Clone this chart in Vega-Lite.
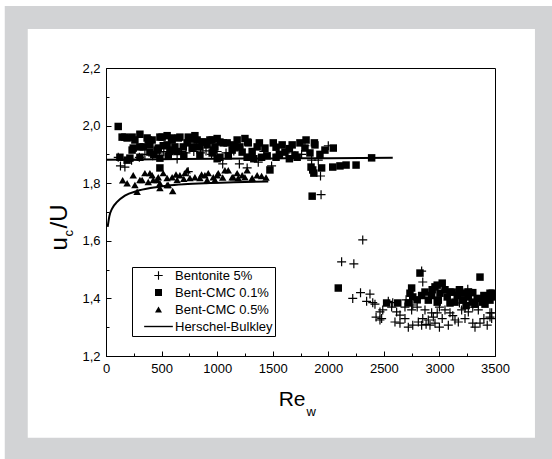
{
  "$schema": "https://vega.github.io/schema/vega-lite/v6.json",
  "width": 389,
  "height": 288,
  "autosize": {"type": "none"},
  "padding": {"left": 106, "top": 68, "right": 57, "bottom": 103},
  "background": "white",
  "config": {"view": {"stroke": "black", "strokeWidth": 1}, "font": "Liberation Sans"},
  "resolve": {"axis": {"x": "independent", "y": "independent"}},
  "layer": [
    {
      "data": {"values": [{"k": "frame"}]},
      "mark": {"type": "rect", "filled": false, "color": "#d2d3d5", "strokeWidth": 23, "clip": false},
      "encoding": {
        "x": {"datum": -807.5, "type": "quantitative", "scale": {"domain": [0, 3500], "nice": false, "zero": false},
          "axis": {"orient": "bottom", "title": "w", "titleFontSize": 13, "titleFontWeight": "normal", "titleColor": "black", "titleX": 200, "titleY": 59, "titleAlign": "left", "titleBaseline": "alphabetic", "titleAngle": 0, "labels": false, "ticks": false, "domain": false, "grid": false, "zindex": 1}},
        "x2": {"datum": 3963},
        "y": {"datum": 2.3753, "type": "quantitative", "scale": {"domain": [1.2, 2.2], "nice": false, "zero": false},
          "axis": {"orient": "left", "title": "c", "titleFontSize": 13, "titleFontWeight": "normal", "titleColor": "black", "titleX": -34, "titleY": 168, "titleAlign": "left", "titleBaseline": "alphabetic", "titleAngle": -90, "labels": false, "ticks": false, "domain": false, "grid": false, "zindex": 1}},
        "y2": {"datum": 0.8764}
      }
    },
    {
      "data": {"values": [
        {"branch": "a", "x": 0, "y": 1.881}, {"branch": "a", "x": 500, "y": 1.883}, {"branch": "a", "x": 1000, "y": 1.885},
        {"branch": "a", "x": 1500, "y": 1.886}, {"branch": "a", "x": 2000, "y": 1.887}, {"branch": "a", "x": 2580, "y": 1.888},
        {"branch": "b", "x": 15, "y": 1.648}, {"branch": "b", "x": 30, "y": 1.685}, {"branch": "b", "x": 55, "y": 1.712},
        {"branch": "b", "x": 100, "y": 1.735}, {"branch": "b", "x": 170, "y": 1.757}, {"branch": "b", "x": 280, "y": 1.773},
        {"branch": "b", "x": 400, "y": 1.783}, {"branch": "b", "x": 550, "y": 1.791}, {"branch": "b", "x": 700, "y": 1.796},
        {"branch": "b", "x": 900, "y": 1.8}, {"branch": "b", "x": 1150, "y": 1.803}, {"branch": "b", "x": 1460, "y": 1.806}
      ]},
      "mark": {"type": "line", "color": "black", "strokeWidth": 2, "interpolate": "monotone", "clip": true},
      "encoding": {
        "x": {"field": "x", "type": "quantitative", "scale": {"domain": [0, 3500], "nice": false, "zero": false}, "axis": null},
        "y": {"field": "y", "type": "quantitative", "scale": {"domain": [1.2, 2.2], "nice": false, "zero": false},
          "axis": {"orient": "left", "title": "/U", "titleFontSize": 24, "titleFontWeight": "normal", "titleColor": "black", "titleX": -40, "titleY": 160, "titleAlign": "left", "titleBaseline": "alphabetic", "titleAngle": -90, "labels": false, "ticks": false, "domain": false, "grid": false, "zindex": 1}},
        "detail": {"field": "branch", "type": "nominal"}
      }
    },
    {
      "data": {"values": [
        {"s": "Bentonite 5%", "x": 110, "y": 1.89}, {"s": "Bentonite 5%", "x": 130, "y": 1.86}, {"s": "Bentonite 5%", "x": 170, "y": 1.856},
        {"s": "Bentonite 5%", "x": 230, "y": 1.88}, {"s": "Bentonite 5%", "x": 300, "y": 1.89}, {"s": "Bentonite 5%", "x": 350, "y": 1.9},
        {"s": "Bentonite 5%", "x": 420, "y": 1.895}, {"s": "Bentonite 5%", "x": 480, "y": 1.905}, {"s": "Bentonite 5%", "x": 520, "y": 1.91},
        {"s": "Bentonite 5%", "x": 580, "y": 1.905}, {"s": "Bentonite 5%", "x": 640, "y": 1.884}, {"s": "Bentonite 5%", "x": 680, "y": 1.91},
        {"s": "Bentonite 5%", "x": 720, "y": 1.905}, {"s": "Bentonite 5%", "x": 740, "y": 1.84}, {"s": "Bentonite 5%", "x": 790, "y": 1.91},
        {"s": "Bentonite 5%", "x": 850, "y": 1.905}, {"s": "Bentonite 5%", "x": 900, "y": 1.912}, {"s": "Bentonite 5%", "x": 950, "y": 1.9},
        {"s": "Bentonite 5%", "x": 1000, "y": 1.91}, {"s": "Bentonite 5%", "x": 1050, "y": 1.867}, {"s": "Bentonite 5%", "x": 1080, "y": 1.905},
        {"s": "Bentonite 5%", "x": 1150, "y": 1.912}, {"s": "Bentonite 5%", "x": 1200, "y": 1.867}, {"s": "Bentonite 5%", "x": 1270, "y": 1.853},
        {"s": "Bentonite 5%", "x": 1300, "y": 1.9}, {"s": "Bentonite 5%", "x": 1370, "y": 1.873}, {"s": "Bentonite 5%", "x": 1420, "y": 1.91},
        {"s": "Bentonite 5%", "x": 1490, "y": 1.86}, {"s": "Bentonite 5%", "x": 1550, "y": 1.9}, {"s": "Bentonite 5%", "x": 1620, "y": 1.905},
        {"s": "Bentonite 5%", "x": 1700, "y": 1.895}, {"s": "Bentonite 5%", "x": 1760, "y": 1.9}, {"s": "Bentonite 5%", "x": 1790, "y": 1.93},
        {"s": "Bentonite 5%", "x": 1850, "y": 1.88}, {"s": "Bentonite 5%", "x": 1910, "y": 1.88}, {"s": "Bentonite 5%", "x": 1930, "y": 1.825},
        {"s": "Bentonite 5%", "x": 1935, "y": 1.76}, {"s": "Bentonite 5%", "x": 2000, "y": 1.93},
        {"s": "Bentonite 5%", "x": 2120, "y": 1.527}, {"s": "Bentonite 5%", "x": 2230, "y": 1.52}, {"s": "Bentonite 5%", "x": 2310, "y": 1.603},
        {"s": "Bentonite 5%", "x": 2290, "y": 1.42}, {"s": "Bentonite 5%", "x": 2375, "y": 1.415}, {"s": "Bentonite 5%", "x": 2220, "y": 1.4},
        {"s": "Bentonite 5%", "x": 2345, "y": 1.39}, {"s": "Bentonite 5%", "x": 2400, "y": 1.385}, {"s": "Bentonite 5%", "x": 2420, "y": 1.38},
        {"s": "Bentonite 5%", "x": 2490, "y": 1.36}, {"s": "Bentonite 5%", "x": 2430, "y": 1.335}, {"s": "Bentonite 5%", "x": 2480, "y": 1.33},
        {"s": "Bentonite 5%", "x": 2465, "y": 1.353}, {"s": "Bentonite 5%", "x": 2465, "y": 1.325},
        {"s": "Bentonite 5%", "x": 2570, "y": 1.37}, {"s": "Bentonite 5%", "x": 2615, "y": 1.353}, {"s": "Bentonite 5%", "x": 2645, "y": 1.342},
        {"s": "Bentonite 5%", "x": 2690, "y": 1.37}, {"s": "Bentonite 5%", "x": 2750, "y": 1.36}, {"s": "Bentonite 5%", "x": 2760, "y": 1.377},
        {"s": "Bentonite 5%", "x": 2600, "y": 1.318}, {"s": "Bentonite 5%", "x": 2645, "y": 1.314}, {"s": "Bentonite 5%", "x": 2690, "y": 1.33},
        {"s": "Bentonite 5%", "x": 2720, "y": 1.3}, {"s": "Bentonite 5%", "x": 2760, "y": 1.307}, {"s": "Bentonite 5%", "x": 2810, "y": 1.318},
        {"s": "Bentonite 5%", "x": 2840, "y": 1.307}, {"s": "Bentonite 5%", "x": 2850, "y": 1.33}, {"s": "Bentonite 5%", "x": 2900, "y": 1.325},
        {"s": "Bentonite 5%", "x": 2915, "y": 1.307}, {"s": "Bentonite 5%", "x": 2945, "y": 1.335}, {"s": "Bentonite 5%", "x": 2960, "y": 1.314},
        {"s": "Bentonite 5%", "x": 2980, "y": 1.35}, {"s": "Bentonite 5%", "x": 3025, "y": 1.33}, {"s": "Bentonite 5%", "x": 3080, "y": 1.307},
        {"s": "Bentonite 5%", "x": 3095, "y": 1.35}, {"s": "Bentonite 5%", "x": 3140, "y": 1.325}, {"s": "Bentonite 5%", "x": 3170, "y": 1.318},
        {"s": "Bentonite 5%", "x": 3230, "y": 1.33}, {"s": "Bentonite 5%", "x": 3260, "y": 1.353}, {"s": "Bentonite 5%", "x": 3300, "y": 1.314},
        {"s": "Bentonite 5%", "x": 3365, "y": 1.314}, {"s": "Bentonite 5%", "x": 3430, "y": 1.307}, {"s": "Bentonite 5%", "x": 3455, "y": 1.35},
        {"s": "Bentonite 5%", "x": 3455, "y": 1.335}, {"s": "Bentonite 5%", "x": 2840, "y": 1.495}, {"s": "Bentonite 5%", "x": 2850, "y": 1.457},
        {"s": "Bentonite 5%", "x": 3230, "y": 1.366}, {"s": "Bentonite 5%", "x": 3255, "y": 1.432}, {"s": "Bentonite 5%", "x": 3180, "y": 1.384},
        {"s": "Bentonite 5%", "x": 3300, "y": 1.37}, {"s": "Bentonite 5%", "x": 3470, "y": 1.35}, {"s": "Bentonite 5%", "x": 3470, "y": 1.33},
        {"s": "Bentonite 5%", "x": 2540, "y": 1.39}, {"s": "Bentonite 5%", "x": 2580, "y": 1.385}, {"s": "Bentonite 5%", "x": 2700, "y": 1.395},
        {"s": "Bentonite 5%", "x": 2800, "y": 1.37}, {"s": "Bentonite 5%", "x": 2870, "y": 1.36}, {"s": "Bentonite 5%", "x": 2930, "y": 1.35},
        {"s": "Bentonite 5%", "x": 3000, "y": 1.37}, {"s": "Bentonite 5%", "x": 3050, "y": 1.36}, {"s": "Bentonite 5%", "x": 3120, "y": 1.34},
        {"s": "Bentonite 5%", "x": 3200, "y": 1.36}, {"s": "Bentonite 5%", "x": 3350, "y": 1.36}, {"s": "Bentonite 5%", "x": 3400, "y": 1.33},
        {"s": "Bentonite 5%", "x": 2880, "y": 1.31}, {"s": "Bentonite 5%", "x": 3000, "y": 1.3}, {"s": "Bentonite 5%", "x": 3320, "y": 1.3},

        {"s": "Bent-CMC 0.1%", "x": 110, "y": 1.997}, {"s": "Bent-CMC 0.1%", "x": 145, "y": 1.96}, {"s": "Bent-CMC 0.1%", "x": 170, "y": 1.96},
        {"s": "Bent-CMC 0.1%", "x": 190, "y": 1.957}, {"s": "Bent-CMC 0.1%", "x": 235, "y": 1.96}, {"s": "Bent-CMC 0.1%", "x": 305, "y": 1.97},
        {"s": "Bent-CMC 0.1%", "x": 370, "y": 1.957}, {"s": "Bent-CMC 0.1%", "x": 380, "y": 1.95}, {"s": "Bent-CMC 0.1%", "x": 415, "y": 1.95},
        {"s": "Bent-CMC 0.1%", "x": 485, "y": 1.96}, {"s": "Bent-CMC 0.1%", "x": 505, "y": 1.96}, {"s": "Bent-CMC 0.1%", "x": 590, "y": 1.957},
        {"s": "Bent-CMC 0.1%", "x": 595, "y": 1.95}, {"s": "Bent-CMC 0.1%", "x": 650, "y": 1.957}, {"s": "Bent-CMC 0.1%", "x": 665, "y": 1.96},
        {"s": "Bent-CMC 0.1%", "x": 740, "y": 1.96}, {"s": "Bent-CMC 0.1%", "x": 775, "y": 1.953}, {"s": "Bent-CMC 0.1%", "x": 820, "y": 1.95},
        {"s": "Bent-CMC 0.1%", "x": 865, "y": 1.943}, {"s": "Bent-CMC 0.1%", "x": 875, "y": 1.943}, {"s": "Bent-CMC 0.1%", "x": 935, "y": 1.95},
        {"s": "Bent-CMC 0.1%", "x": 955, "y": 1.95}, {"s": "Bent-CMC 0.1%", "x": 1055, "y": 1.94}, {"s": "Bent-CMC 0.1%", "x": 1090, "y": 1.94},
        {"s": "Bent-CMC 0.1%", "x": 1145, "y": 1.933}, {"s": "Bent-CMC 0.1%", "x": 1275, "y": 1.943}, {"s": "Bent-CMC 0.1%", "x": 1280, "y": 1.94},
        {"s": "Bent-CMC 0.1%", "x": 1360, "y": 1.926}, {"s": "Bent-CMC 0.1%", "x": 1430, "y": 1.922}, {"s": "Bent-CMC 0.1%", "x": 1505, "y": 1.94},
        {"s": "Bent-CMC 0.1%", "x": 1585, "y": 1.933}, {"s": "Bent-CMC 0.1%", "x": 1675, "y": 1.933}, {"s": "Bent-CMC 0.1%", "x": 1745, "y": 1.94},
        {"s": "Bent-CMC 0.1%", "x": 1790, "y": 1.922}, {"s": "Bent-CMC 0.1%", "x": 1875, "y": 1.94}, {"s": "Bent-CMC 0.1%", "x": 1880, "y": 1.933},
        {"s": "Bent-CMC 0.1%", "x": 2045, "y": 1.922}, {"s": "Bent-CMC 0.1%", "x": 125, "y": 1.89}, {"s": "Bent-CMC 0.1%", "x": 190, "y": 1.88},
        {"s": "Bent-CMC 0.1%", "x": 215, "y": 1.887}, {"s": "Bent-CMC 0.1%", "x": 235, "y": 1.915}, {"s": "Bent-CMC 0.1%", "x": 245, "y": 1.922},
        {"s": "Bent-CMC 0.1%", "x": 305, "y": 1.926}, {"s": "Bent-CMC 0.1%", "x": 305, "y": 1.89}, {"s": "Bent-CMC 0.1%", "x": 335, "y": 1.926},
        {"s": "Bent-CMC 0.1%", "x": 395, "y": 1.933}, {"s": "Bent-CMC 0.1%", "x": 395, "y": 1.908}, {"s": "Bent-CMC 0.1%", "x": 460, "y": 1.915},
        {"s": "Bent-CMC 0.1%", "x": 470, "y": 1.922}, {"s": "Bent-CMC 0.1%", "x": 485, "y": 1.887}, {"s": "Bent-CMC 0.1%", "x": 515, "y": 1.93},
        {"s": "Bent-CMC 0.1%", "x": 550, "y": 1.933}, {"s": "Bent-CMC 0.1%", "x": 575, "y": 1.91}, {"s": "Bent-CMC 0.1%", "x": 605, "y": 1.915},
        {"s": "Bent-CMC 0.1%", "x": 620, "y": 1.926}, {"s": "Bent-CMC 0.1%", "x": 695, "y": 1.926}, {"s": "Bent-CMC 0.1%", "x": 730, "y": 1.94},
        {"s": "Bent-CMC 0.1%", "x": 775, "y": 1.922}, {"s": "Bent-CMC 0.1%", "x": 785, "y": 1.926}, {"s": "Bent-CMC 0.1%", "x": 845, "y": 1.898},
        {"s": "Bent-CMC 0.1%", "x": 845, "y": 1.926}, {"s": "Bent-CMC 0.1%", "x": 910, "y": 1.933}, {"s": "Bent-CMC 0.1%", "x": 955, "y": 1.905},
        {"s": "Bent-CMC 0.1%", "x": 965, "y": 1.915}, {"s": "Bent-CMC 0.1%", "x": 980, "y": 1.926}, {"s": "Bent-CMC 0.1%", "x": 1025, "y": 1.943},
        {"s": "Bent-CMC 0.1%", "x": 1025, "y": 1.89}, {"s": "Bent-CMC 0.1%", "x": 1135, "y": 1.915}, {"s": "Bent-CMC 0.1%", "x": 1160, "y": 1.926},
        {"s": "Bent-CMC 0.1%", "x": 1205, "y": 1.926}, {"s": "Bent-CMC 0.1%", "x": 1225, "y": 1.908}, {"s": "Bent-CMC 0.1%", "x": 1270, "y": 1.89},
        {"s": "Bent-CMC 0.1%", "x": 1315, "y": 1.91}, {"s": "Bent-CMC 0.1%", "x": 1610, "y": 1.908}, {"s": "Bent-CMC 0.1%", "x": 1700, "y": 1.898},
        {"s": "Bent-CMC 0.1%", "x": 1835, "y": 1.905}, {"s": "Bent-CMC 0.1%", "x": 1925, "y": 1.9}, {"s": "Bent-CMC 0.1%", "x": 1970, "y": 1.915},
        {"s": "Bent-CMC 0.1%", "x": 485, "y": 1.853}, {"s": "Bent-CMC 0.1%", "x": 1475, "y": 1.846}, {"s": "Bent-CMC 0.1%", "x": 1845, "y": 1.856},
        {"s": "Bent-CMC 0.1%", "x": 1860, "y": 1.846}, {"s": "Bent-CMC 0.1%", "x": 1870, "y": 1.835}, {"s": "Bent-CMC 0.1%", "x": 1940, "y": 1.853},
        {"s": "Bent-CMC 0.1%", "x": 2040, "y": 1.856}, {"s": "Bent-CMC 0.1%", "x": 2105, "y": 1.86}, {"s": "Bent-CMC 0.1%", "x": 2160, "y": 1.863},
        {"s": "Bent-CMC 0.1%", "x": 2250, "y": 1.863}, {"s": "Bent-CMC 0.1%", "x": 2390, "y": 1.888}, {"s": "Bent-CMC 0.1%", "x": 1855, "y": 1.755},
        {"s": "Bent-CMC 0.1%", "x": 1330, "y": 1.885}, {"s": "Bent-CMC 0.1%", "x": 1400, "y": 1.89}, {"s": "Bent-CMC 0.1%", "x": 1450, "y": 1.895},
        {"s": "Bent-CMC 0.1%", "x": 1530, "y": 1.89}, {"s": "Bent-CMC 0.1%", "x": 1560, "y": 1.9}, {"s": "Bent-CMC 0.1%", "x": 1650, "y": 1.885},
        {"s": "Bent-CMC 0.1%", "x": 1720, "y": 1.89}, {"s": "Bent-CMC 0.1%", "x": 1100, "y": 1.895}, {"s": "Bent-CMC 0.1%", "x": 1000, "y": 1.885},
        {"s": "Bent-CMC 0.1%", "x": 700, "y": 1.895}, {"s": "Bent-CMC 0.1%", "x": 640, "y": 1.91}, {"s": "Bent-CMC 0.1%", "x": 560, "y": 1.895},
        {"s": "Bent-CMC 0.1%", "x": 430, "y": 1.9}, {"s": "Bent-CMC 0.1%", "x": 1380, "y": 1.94}, {"s": "Bent-CMC 0.1%", "x": 1180, "y": 1.95},
        {"s": "Bent-CMC 0.1%", "x": 1250, "y": 1.955}, {"s": "Bent-CMC 0.1%", "x": 1000, "y": 1.955}, {"s": "Bent-CMC 0.1%", "x": 800, "y": 1.965},
        {"s": "Bent-CMC 0.1%", "x": 550, "y": 1.965}, {"s": "Bent-CMC 0.1%", "x": 260, "y": 1.95}, {"s": "Bent-CMC 0.1%", "x": 1530, "y": 1.925},
        {"s": "Bent-CMC 0.1%", "x": 1650, "y": 1.92}, {"s": "Bent-CMC 0.1%", "x": 1800, "y": 1.95},
        {"s": "Bent-CMC 0.1%", "x": 2090, "y": 1.436},
        {"s": "Bent-CMC 0.1%", "x": 2525, "y": 1.384}, {"s": "Bent-CMC 0.1%", "x": 2625, "y": 1.384}, {"s": "Bent-CMC 0.1%", "x": 2720, "y": 1.384},
        {"s": "Bent-CMC 0.1%", "x": 2825, "y": 1.488}, {"s": "Bent-CMC 0.1%", "x": 2750, "y": 1.436}, {"s": "Bent-CMC 0.1%", "x": 2735, "y": 1.418},
        {"s": "Bent-CMC 0.1%", "x": 2840, "y": 1.41}, {"s": "Bent-CMC 0.1%", "x": 2900, "y": 1.394}, {"s": "Bent-CMC 0.1%", "x": 2935, "y": 1.43},
        {"s": "Bent-CMC 0.1%", "x": 2960, "y": 1.44}, {"s": "Bent-CMC 0.1%", "x": 3025, "y": 1.453}, {"s": "Bent-CMC 0.1%", "x": 3005, "y": 1.418},
        {"s": "Bent-CMC 0.1%", "x": 2980, "y": 1.387}, {"s": "Bent-CMC 0.1%", "x": 3070, "y": 1.405}, {"s": "Bent-CMC 0.1%", "x": 3115, "y": 1.422},
        {"s": "Bent-CMC 0.1%", "x": 3160, "y": 1.41}, {"s": "Bent-CMC 0.1%", "x": 3205, "y": 1.418}, {"s": "Bent-CMC 0.1%", "x": 3140, "y": 1.387},
        {"s": "Bent-CMC 0.1%", "x": 3215, "y": 1.394}, {"s": "Bent-CMC 0.1%", "x": 3260, "y": 1.405}, {"s": "Bent-CMC 0.1%", "x": 3295, "y": 1.387},
        {"s": "Bent-CMC 0.1%", "x": 3340, "y": 1.4}, {"s": "Bent-CMC 0.1%", "x": 3365, "y": 1.474}, {"s": "Bent-CMC 0.1%", "x": 3385, "y": 1.387},
        {"s": "Bent-CMC 0.1%", "x": 3430, "y": 1.4}, {"s": "Bent-CMC 0.1%", "x": 3455, "y": 1.418}, {"s": "Bent-CMC 0.1%", "x": 3260, "y": 1.422},
        {"s": "Bent-CMC 0.1%", "x": 3095, "y": 1.384}, {"s": "Bent-CMC 0.1%", "x": 2870, "y": 1.422}, {"s": "Bent-CMC 0.1%", "x": 2760, "y": 1.405},
        {"s": "Bent-CMC 0.1%", "x": 2980, "y": 1.446}, {"s": "Bent-CMC 0.1%", "x": 3095, "y": 1.422}, {"s": "Bent-CMC 0.1%", "x": 2990, "y": 1.394},
        {"s": "Bent-CMC 0.1%", "x": 3475, "y": 1.418}, {"s": "Bent-CMC 0.1%", "x": 3455, "y": 1.394}, {"s": "Bent-CMC 0.1%", "x": 3050, "y": 1.43},
        {"s": "Bent-CMC 0.1%", "x": 3180, "y": 1.43}, {"s": "Bent-CMC 0.1%", "x": 3300, "y": 1.42}, {"s": "Bent-CMC 0.1%", "x": 3400, "y": 1.41},
        {"s": "Bent-CMC 0.1%", "x": 3320, "y": 1.38}, {"s": "Bent-CMC 0.1%", "x": 3240, "y": 1.375}, {"s": "Bent-CMC 0.1%", "x": 2800, "y": 1.395},
        {"s": "Bent-CMC 0.1%", "x": 2930, "y": 1.41}, {"s": "Bent-CMC 0.1%", "x": 3410, "y": 1.38}, {"s": "Bent-CMC 0.1%", "x": 3490, "y": 1.405},

        {"s": "Bent-CMC 0.5%", "x": 190, "y": 1.8}, {"s": "Bent-CMC 0.5%", "x": 245, "y": 1.828}, {"s": "Bent-CMC 0.5%", "x": 260, "y": 1.794},
        {"s": "Bent-CMC 0.5%", "x": 280, "y": 1.77}, {"s": "Bent-CMC 0.5%", "x": 305, "y": 1.811}, {"s": "Bent-CMC 0.5%", "x": 325, "y": 1.811},
        {"s": "Bent-CMC 0.5%", "x": 350, "y": 1.835}, {"s": "Bent-CMC 0.5%", "x": 380, "y": 1.804}, {"s": "Bent-CMC 0.5%", "x": 395, "y": 1.835},
        {"s": "Bent-CMC 0.5%", "x": 415, "y": 1.828}, {"s": "Bent-CMC 0.5%", "x": 425, "y": 1.811}, {"s": "Bent-CMC 0.5%", "x": 460, "y": 1.811},
        {"s": "Bent-CMC 0.5%", "x": 470, "y": 1.821}, {"s": "Bent-CMC 0.5%", "x": 485, "y": 1.783}, {"s": "Bent-CMC 0.5%", "x": 485, "y": 1.8},
        {"s": "Bent-CMC 0.5%", "x": 515, "y": 1.835}, {"s": "Bent-CMC 0.5%", "x": 550, "y": 1.818}, {"s": "Bent-CMC 0.5%", "x": 550, "y": 1.794},
        {"s": "Bent-CMC 0.5%", "x": 560, "y": 1.794}, {"s": "Bent-CMC 0.5%", "x": 595, "y": 1.821}, {"s": "Bent-CMC 0.5%", "x": 600, "y": 1.773},
        {"s": "Bent-CMC 0.5%", "x": 640, "y": 1.811}, {"s": "Bent-CMC 0.5%", "x": 665, "y": 1.828}, {"s": "Bent-CMC 0.5%", "x": 710, "y": 1.835},
        {"s": "Bent-CMC 0.5%", "x": 730, "y": 1.845}, {"s": "Bent-CMC 0.5%", "x": 755, "y": 1.818}, {"s": "Bent-CMC 0.5%", "x": 800, "y": 1.821},
        {"s": "Bent-CMC 0.5%", "x": 845, "y": 1.818}, {"s": "Bent-CMC 0.5%", "x": 890, "y": 1.828}, {"s": "Bent-CMC 0.5%", "x": 910, "y": 1.811},
        {"s": "Bent-CMC 0.5%", "x": 920, "y": 1.835}, {"s": "Bent-CMC 0.5%", "x": 965, "y": 1.821}, {"s": "Bent-CMC 0.5%", "x": 980, "y": 1.811},
        {"s": "Bent-CMC 0.5%", "x": 1000, "y": 1.828}, {"s": "Bent-CMC 0.5%", "x": 1010, "y": 1.835}, {"s": "Bent-CMC 0.5%", "x": 1070, "y": 1.845},
        {"s": "Bent-CMC 0.5%", "x": 1100, "y": 1.845}, {"s": "Bent-CMC 0.5%", "x": 1135, "y": 1.821}, {"s": "Bent-CMC 0.5%", "x": 1145, "y": 1.821},
        {"s": "Bent-CMC 0.5%", "x": 1180, "y": 1.835}, {"s": "Bent-CMC 0.5%", "x": 1190, "y": 1.818}, {"s": "Bent-CMC 0.5%", "x": 1225, "y": 1.828},
        {"s": "Bent-CMC 0.5%", "x": 1250, "y": 1.821}, {"s": "Bent-CMC 0.5%", "x": 1270, "y": 1.845}, {"s": "Bent-CMC 0.5%", "x": 1315, "y": 1.818},
        {"s": "Bent-CMC 0.5%", "x": 1360, "y": 1.828}, {"s": "Bent-CMC 0.5%", "x": 1400, "y": 1.825}, {"s": "Bent-CMC 0.5%", "x": 1440, "y": 1.82},
        {"s": "Bent-CMC 0.5%", "x": 630, "y": 1.83}, {"s": "Bent-CMC 0.5%", "x": 700, "y": 1.815}, {"s": "Bent-CMC 0.5%", "x": 860, "y": 1.83},
        {"s": "Bent-CMC 0.5%", "x": 1050, "y": 1.82}, {"s": "Bent-CMC 0.5%", "x": 150, "y": 1.81}
      ]},
      "mark": {"type": "point", "filled": true, "color": "black", "strokeWidth": 0, "size": 56, "opacity": 1, "clip": true},
      "encoding": {
        "x": {"field": "x", "type": "quantitative", "scale": {"domain": [0, 3500], "nice": false, "zero": false},
          "axis": {"orient": "bottom", "values": [0, 250, 500, 750, 1000, 1250, 1500, 1750, 2000, 2250, 2500, 2750, 3000, 3250, 3500],
            "format": "d", "labelExpr": "datum.value % 500 == 0 ? datum.label : ''",
            "tickSize": {"condition": {"test": "datum.value % 500 == 0", "value": -5}, "value": -3},
            "tickColor": "black", "domainColor": "black", "labelColor": "black", "labelFontSize": 13, "labelPadding": 11,
            "labelFlush": false, "labelOverlap": false, "grid": false, "zindex": 1,
            "title": "Re", "titleFontSize": 21, "titleFontWeight": "normal", "titleColor": "black", "titleX": 199, "titleY": 49, "titleAlign": "right", "titleBaseline": "alphabetic", "titleAngle": 0}},
        "y": {"field": "y", "type": "quantitative", "scale": {"domain": [1.2, 2.2], "nice": false, "zero": false},
          "axis": {"orient": "left", "values": [1.2, 1.3, 1.4, 1.5, 1.6, 1.7, 1.8, 1.9, 2.0, 2.1, 2.2],
            "labelExpr": "round(datum.value * 10) % 2 == 0 ? replace(format(datum.value, '.1f'), '.', ',') : ''",
            "tickSize": {"condition": {"test": "round(datum.value * 10) % 2 == 0", "value": -5}, "value": -3},
            "tickColor": "black", "domainColor": "black", "labelColor": "black", "labelFontSize": 13, "labelPadding": 11,
            "labelFlush": false, "labelOverlap": false, "grid": false, "zindex": 1,
            "title": "u", "titleFontSize": 24, "titleFontWeight": "normal", "titleColor": "black", "titleX": -40, "titleY": 182, "titleAlign": "left", "titleBaseline": "alphabetic", "titleAngle": -90}},
        "shape": {"field": "s", "type": "nominal",
          "scale": {"domain": ["Bentonite 5%", "Bent-CMC 0.1%", "Bent-CMC 0.5%", "Herschel-Bulkley"],
            "range": ["M-1.2,-0.16H-0.16V-1.2H0.16V-0.16H1.2V0.16H0.16V1.2H-0.16V0.16H-1.2Z", "square", "triangle-up", "M-4.1,-0.2H4.1V0.2H-4.1Z"]},
          "legend": {"title": null, "orient": "none", "legendX": 26, "legendY": 199, "strokeColor": "black", "fillColor": "white",
            "padding": 2, "rowPadding": 3, "labelFontSize": 13, "labelFont": "Liberation Sans", "labelColor": "black",
            "symbolOffset": 18, "labelOffset": 10, "symbolStrokeWidth": 0, "symbolSize": 49,
            "symbolFillColor": "black",
            "encode": {"symbols": {"update": {"fill": {"value": "black"}, "opacity": {"value": 1}}}}}}
      }
    }
  ]
}
